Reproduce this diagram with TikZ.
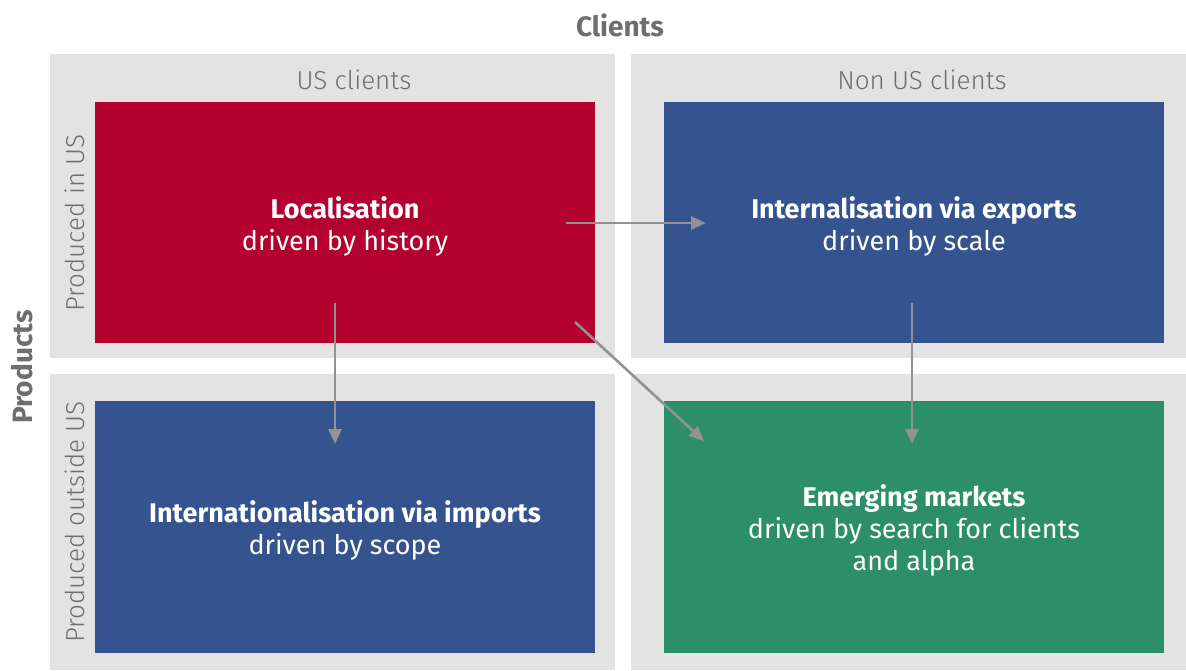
\documentclass[tikz,border=0pt]{standalone}
\usepackage{fontspec}
\setmainfont{Fira Sans}
\newfontfamily\lightfont{Fira Sans Light}
\usetikzlibrary{arrows.meta}
\definecolor{panelgray}{HTML}{E3E3E3}
\definecolor{redbox}{HTML}{B4002F}
\definecolor{bluebox}{HTML}{34538F}
\definecolor{greenbox}{HTML}{2D8E6A}
\definecolor{labelgray}{HTML}{6E6E6E}
\definecolor{arrowgray}{HTML}{929292}
\begin{document}
\begin{tikzpicture}[x=1pt,y=-1pt,
  panel/.style={fill=panelgray, draw=none},
  quadbox/.style={draw=none, minimum width=500pt, inner sep=0pt},
  boxtext/.style={text=white, align=center, font=\fontsize{27}{32}\selectfont, inner sep=0pt},
  axislabel/.style={text=labelgray, font=\lightfont\fontsize{26}{30}\selectfont, inner sep=0pt},
  titlelabel/.style={text=labelgray, font=\bfseries\fontsize{28}{32}\selectfont, inner sep=0pt},
  arr/.style={draw=arrowgray, line width=2.6pt, -{Triangle[length=15pt,width=13pt]}}
]
\useasboundingbox (0,0) rectangle (1186,670);
% panels
\fill[panel] (50,54) rectangle (615,358);
\fill[panel] (631,54) rectangle (1186,358);
\fill[panel] (50,374) rectangle (615,670);
\fill[panel] (631,374) rectangle (1186,670);
% boxes
\node[quadbox, fill=redbox, minimum height=241pt] (loc) at (345,222.5) {};
\node[quadbox, fill=bluebox, minimum height=241pt] (exp) at (914,222.5) {};
\node[quadbox, fill=bluebox, minimum height=252pt] (imp) at (345,527) {};
\node[quadbox, fill=greenbox, minimum height=252pt] (emg) at (914,527) {};
\node[boxtext] (loct) at (345,226) {\textbf{Localisation}\\driven by history};
\node[boxtext] (expt) at (914,226) {\textbf{Internalisation via exports}\\driven by scale};
\node[boxtext] (impt) at (345,530) {\textbf{Internationalisation via imports}\\driven by scope};
\node[boxtext] (emgt) at (914,530) {\textbf{Emerging markets}\\driven by search for clients\\and alpha};
% labels
\node[titlelabel] (clients) at (620,25) {Clients};
\node[titlelabel, rotate=90] (products) at (22,367) {Products};
\node[axislabel] (usc) at (354,80) {US clients};
\node[axislabel] (nusc) at (922,80) {Non US clients};
\node[axislabel, rotate=90] (piu) at (75,223) {Produced in US};
\node[axislabel, rotate=90] (pou) at (75,522) {Produced outside US};
% arrow end points
\coordinate (a1s) at (566,223);
\coordinate (a1e) at (706,223);
\coordinate (a2s) at (335,303);
\coordinate (a2e) at (335,444);
\coordinate (a3s) at (575,322);
\coordinate (a3e) at (704,441);
\coordinate (a4s) at (912,303);
\coordinate (a4e) at (912,444);
\draw[arr] (a1s) -- (a1e);
\draw[arr] (a2s) -- (a2e);
\draw[arr] (a3s) -- (a3e);
\draw[arr] (a4s) -- (a4e);
\end{tikzpicture}
\end{document}
